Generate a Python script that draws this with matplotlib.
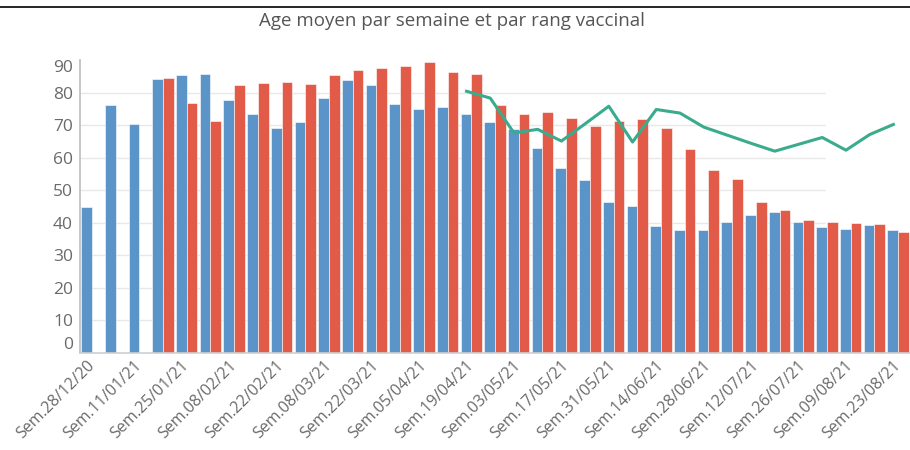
import matplotlib
matplotlib.use("Agg")
import matplotlib.pyplot as plt
import numpy as np

weeks = ["Sem.28/12/20", "Sem.04/01/21", "Sem.11/01/21", "Sem.18/01/21", "Sem.25/01/21",
         "Sem.01/02/21", "Sem.08/02/21", "Sem.15/02/21", "Sem.22/02/21", "Sem.01/03/21",
         "Sem.08/03/21", "Sem.15/03/21", "Sem.22/03/21", "Sem.29/03/21", "Sem.05/04/21",
         "Sem.12/04/21", "Sem.19/04/21", "Sem.26/04/21", "Sem.03/05/21", "Sem.10/05/21",
         "Sem.17/05/21", "Sem.24/05/21", "Sem.31/05/21", "Sem.07/06/21", "Sem.14/06/21",
         "Sem.21/06/21", "Sem.28/06/21", "Sem.05/07/21", "Sem.12/07/21", "Sem.19/07/21",
         "Sem.26/07/21", "Sem.02/08/21", "Sem.09/08/21", "Sem.16/08/21", "Sem.23/08/21"]

dose1 = [45.0, 76.3, 70.2, 84.3, 85.4, 85.8, 77.7, 73.3, 69.1, 71.1,
         78.4, 83.9, 82.2, 76.5, 74.8, 75.5, 73.4, 71.1, 68.9, 63.1,
         56.8, 53.2, 46.4, 45.2, 39.1, 37.7, 37.7, 40.2, 42.5, 43.3,
         40.2, 38.7, 38.1, 39.2, 37.7]

dose2 = [None, None, None, 84.5, 76.9, 71.2, 82.2, 83.0, 83.2, 82.7,
         85.3, 87.0, 87.6, 88.2, 89.5, 86.2, 85.7, 76.3, 73.5, 74.1,
         72.3, 69.7, 71.2, 71.8, 69.2, 62.7, 56.1, 53.6, 46.5, 43.9,
         40.8, 40.2, 39.9, 39.6, 37.2]

dose3 = [None] * 16 + [80.4, 78.3, 67.6, 68.7, 65.1, 70.4, 75.8, 64.8, 74.8, 73.7,
                       69.4, 66.9, 64.4, 62.0, 64.1, 66.2, 62.3, 67.1, 70.2]

yticks = [0, 10, 20, 30, 40, 50, 60, 70, 80, 90]

BLUE = "#5b94c9"
RED = "#e15b48"
GREEN = "#3aab8d"
GRAY = "#6a6a6a"

plt.rcParams['font.family'] = ['Open Sans', 'DejaVu Sans']

fig = plt.figure(figsize=(9.10, 4.50), dpi=100)
ax = fig.add_axes([80 / 910, 1 - 353 / 450, 830 / 910, 293 / 450])

x = np.arange(len(weeks))
w = 0.45
d1 = np.array(dose1, dtype=float)
d2 = np.array([np.nan if v is None else v for v in dose2], dtype=float)
d3 = np.array([np.nan if v is None else v for v in dose3], dtype=float)

ax.bar(x - w / 2, d1, width=w, color=BLUE, edgecolor="white", linewidth=0.4, zorder=2)
ax.bar(x + w / 2, d2, width=w, color=RED, edgecolor="white", linewidth=0.4, zorder=2)
ax.plot(x - 0.2, d3, color=GREEN, linewidth=2.2, zorder=3)

ax.set_xlim(-0.5, len(weeks) - 0.5)
ax.set_ylim(0, 90)

ax.hlines(yticks[1:-1], -0.5, 30.9, colors="#e8e8e8", linewidth=1.0, zorder=1)

ax.set_yticks(yticks)
ax.set_yticklabels([str(v) for v in yticks])
for lab, v in zip(ax.get_yticklabels(), yticks):
    if v == 90:
        lab.set_va("top")
    elif v == 0:
        lab.set_va("bottom")
ax.tick_params(axis="y", length=0, pad=5, labelsize=12.5, labelcolor=GRAY)

ax.set_xticks(x[::2])
ax.set_xticklabels(weeks[::2], rotation=45, ha="right", va="center", rotation_mode="anchor")
ax.tick_params(axis="x", length=0, pad=7, labelsize=11.5, labelcolor=GRAY)

for s in ["top", "right"]:
    ax.spines[s].set_visible(False)
ax.spines["left"].set_color("#bdbdbd")
ax.spines["bottom"].set_color("#cfcfcf")
ax.spines["left"].set_linewidth(1.2)
ax.spines["bottom"].set_linewidth(1.2)

fig.text(452 / 910, 1 - 21 / 450, "Age moyen par semaine et par rang vaccinal",
         ha="center", va="center", fontsize=13.5, color="#555555")
fig.add_artist(plt.Line2D([0, 1], [1 - 7 / 450, 1 - 7 / 450], color="black", linewidth=1.2,
                          transform=fig.transFigure))

fig.savefig("out.png", dpi=100)
